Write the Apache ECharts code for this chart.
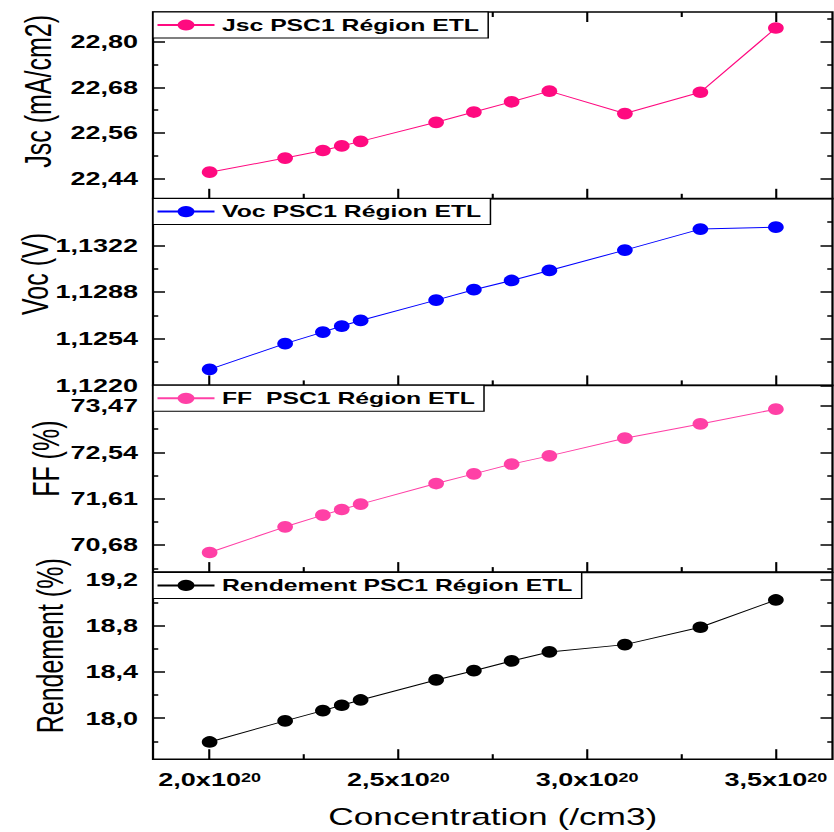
<!DOCTYPE html>
<html>
<head>
<meta charset="utf-8">
<script src="https://cdn.jsdelivr.net/npm/echarts@6/dist/echarts.min.js"></script>
<style>
  html, body { margin: 0; padding: 0; background: #fff; overflow: hidden; }
  #wrap { position: absolute; left: 0; top: 0; width: 834px; height: 832px; overflow: hidden; }
  #chart { position: absolute; left: 0; top: 0; width: 556px; height: 832px; transform: scaleX(1.5); transform-origin: 0 0; }
</style>
</head>
<body>
<div id="wrap"><div id="chart"></div></div>
<script>
// ---- data (concentration in units of 1e20 /cm3) ----
const concentration = [2.0, 2.2, 2.3, 2.35, 2.4, 2.6, 2.7, 2.8, 2.9, 3.1, 3.3, 3.5];
const jsc = [22.457, 22.494, 22.514, 22.526, 22.538, 22.588, 22.615, 22.642, 22.670, 22.611, 22.667, 22.836];
const voc = [1.12317, 1.12504, 1.12588, 1.12632, 1.12673, 1.12821, 1.12897, 1.12964, 1.13037, 1.13185, 1.13338, 1.13352];
const ff = [70.532, 71.047, 71.281, 71.394, 71.502, 71.915, 72.109, 72.304, 72.470, 72.825, 73.111, 73.406];
const rendement = [17.795, 17.977, 18.066, 18.112, 18.158, 18.331, 18.411, 18.495, 18.573, 18.636, 18.786, 19.022];

// ---- tick labels ----
const xTicks = [2.0, 2.5, 3.0, 3.5];
const xMinorTicks = [2.25, 2.75, 3.25];
const jscTicks = [22.44, 22.56, 22.68, 22.80];
const jscMinorTicks = [22.50, 22.62, 22.74, 22.86];
const vocTicks = [1.1220, 1.1254, 1.1288, 1.1322];
const vocMinorTicks = [1.1237, 1.1271, 1.1305, 1.1339];
const ffTicks = [70.68, 71.61, 72.54, 73.47];
const ffMinorTicks = [70.215, 71.145, 72.075, 73.005];
const rendTicks = [18.0, 18.4, 18.8, 19.2];
const rendMinorTicks = [17.8, 18.2, 18.6, 19.0];

const seriesNames = ['Jsc PSC1 Région ETL', 'Voc PSC1 Région ETL', 'FF  PSC1 Région ETL', 'Rendement PSC1 Région ETL'];
const yNames = ['Jsc (mA/cm2)', 'Voc (V)', 'FF (%)', 'Rendement (%)'];
const xName = 'Concentration (/cm3)';

const FONT = '"Liberation Sans", Arial, Helvetica, sans-serif';
const xMin = 1.85, xMax = 3.65;

const panels = [
  { values: jsc, min: 22.387, max: 22.878, major: jscTicks, minor: jscMinorTicks, dec: 2, color: '#FF0A80', nameGap: 64, nameShift: 14, top: 12 },
  { values: voc, min: 1.1220, max: 1.1356, major: vocTicks, minor: vocMinorTicks, dec: 4, color: '#0000FF', nameGap: 66, nameShift: 18, top: 198.6 },
  { values: ff, min: 70.139, max: 73.885, major: ffTicks, minor: ffMinorTicks, dec: 2, color: '#FF40A6', nameGap: 59, nameShift: 20, top: 385.3 },
  { values: rendement, min: 17.646, max: 19.26, major: rendTicks, minor: rendMinorTicks, dec: 1, color: '#000000', nameGap: 56, nameShift: 20, top: 572.4 }
];

const H = 186.8;
const grid = [], xAxis = [], yAxis = [], series = [], legend = [];

panels.forEach((p, i) => {
  grid.push({ left: 102, right: 1, top: p.top, height: H, show: true, borderColor: '#000', borderWidth: 1.5,
    backgroundColor: 'transparent', containLabel: false, outerBoundsMode: 'none' });

  const xMajorIdx = xAxis.length;
  const isLast = i === panels.length - 1;
  xAxis.push({
    gridIndex: i, type: 'value', min: xMin, max: xMax, position: 'bottom',
    axisLine: { show: false }, splitLine: { show: false },
    axisTick: { show: true, inside: true, length: 10, lineStyle: { color: '#000', width: 1.4 }, customValues: xTicks },
    axisLabel: isLast ? {
      show: true, margin: 12, customValues: xTicks,
      formatter: v => '{a|' + v.toFixed(1).replace('.', ',') + 'x10}{s|20}',
      rich: {
        a: { fontFamily: FONT, fontWeight: 'bold', fontSize: 18, lineHeight: 18, color: '#000' },
        s: { fontFamily: FONT, fontWeight: 'bold', fontSize: 12, lineHeight: 12, verticalAlign: 'top', color: '#000' }
      }
    } : { show: false },
    name: isLast ? xName : '', nameLocation: 'middle', nameGap: 46, nameMoveOverlap: false,
    nameTextStyle: { fontFamily: FONT, fontSize: 23.5, color: '#000' }
  });
  xAxis.push({
    gridIndex: i, type: 'value', min: xMin, max: xMax, position: 'bottom',
    axisLine: { show: false }, splitLine: { show: false }, axisLabel: { show: false },
    axisTick: { show: true, inside: true, length: 5, lineStyle: { color: '#000', width: 1.4 }, customValues: xMinorTicks }
  });
  if (i === 0) {
    xAxis.push({
      gridIndex: i, type: 'value', min: xMin, max: xMax, position: 'top',
      axisLine: { show: false }, splitLine: { show: false }, axisLabel: { show: false },
      axisTick: { show: true, inside: true, length: 10, lineStyle: { color: '#000', width: 1.4 }, customValues: xTicks }
    });
    xAxis.push({
      gridIndex: i, type: 'value', min: xMin, max: xMax, position: 'top',
      axisLine: { show: false }, splitLine: { show: false }, axisLabel: { show: false },
      axisTick: { show: true, inside: true, length: 5, lineStyle: { color: '#000', width: 1.4 }, customValues: xMinorTicks }
    });
  }

  const yMajorIdx = yAxis.length;
  const fmt = v => v.toFixed(p.dec).replace('.', ',');
  yAxis.push({
    gridIndex: i, type: 'value', min: p.min, max: p.max, position: 'left',
    axisLine: { show: false }, splitLine: { show: false },
    axisTick: { show: true, inside: true, length: 8, lineStyle: { color: '#000', width: 1.5 }, customValues: p.major },
    axisLabel: { show: true, margin: 10, customValues: p.major, formatter: fmt, fontFamily: FONT, fontWeight: 'bold', fontSize: 18, color: '#000' },
    name: yNames[i], nameLocation: 'middle', nameGap: p.nameGap, nameMoveOverlap: false,
    nameTextStyle: { fontFamily: FONT, fontSize: 25, color: '#000', padding: [0, 0, 0, 2 * p.nameShift] }
  });
  yAxis.push({
    gridIndex: i, type: 'value', min: p.min, max: p.max, position: 'left',
    axisLine: { show: false }, splitLine: { show: false }, axisLabel: { show: false },
    axisTick: { show: true, inside: true, length: 3.5, lineStyle: { color: '#000', width: 1.5 }, customValues: p.minor }
  });
  yAxis.push({
    gridIndex: i, type: 'value', min: p.min, max: p.max, position: 'right',
    axisLine: { show: false }, splitLine: { show: false }, axisLabel: { show: false },
    axisTick: { show: true, inside: true, length: 8, lineStyle: { color: '#000', width: 1.5 }, customValues: p.major }
  });
  yAxis.push({
    gridIndex: i, type: 'value', min: p.min, max: p.max, position: 'right',
    axisLine: { show: false }, splitLine: { show: false }, axisLabel: { show: false },
    axisTick: { show: true, inside: true, length: 3.5, lineStyle: { color: '#000', width: 1.5 }, customValues: p.minor }
  });

  series.push({
    name: seriesNames[i], type: 'line', xAxisIndex: xMajorIdx, yAxisIndex: yMajorIdx,
    data: concentration.map((c, k) => [c, p.values[k]]),
    symbol: 'circle', symbolSize: [10.5, 11.7], showSymbol: true,
    lineStyle: { color: p.color, width: 1 }, itemStyle: { color: p.color },
    animation: false, z: 3
  });

  legend.push({
    data: [seriesNames[i]], left: 102, top: p.top, orient: 'horizontal',
    padding: [4.5, 6, 4.5, 2], borderColor: '#000', borderWidth: 1, backgroundColor: '#fff',
    itemWidth: 38, itemHeight: 14, selectedMode: false,
    textStyle: { fontFamily: FONT, fontWeight: 'bold', fontSize: 16.5, color: '#000' }
  });
});

const chart = echarts.init(document.getElementById('chart'), null, { renderer: 'svg', width: 556, height: 832 });
chart.setOption({
  backgroundColor: '#fff',
  animation: false,
  grid, xAxis, yAxis, series, legend
});
</script>
</body>
</html>
